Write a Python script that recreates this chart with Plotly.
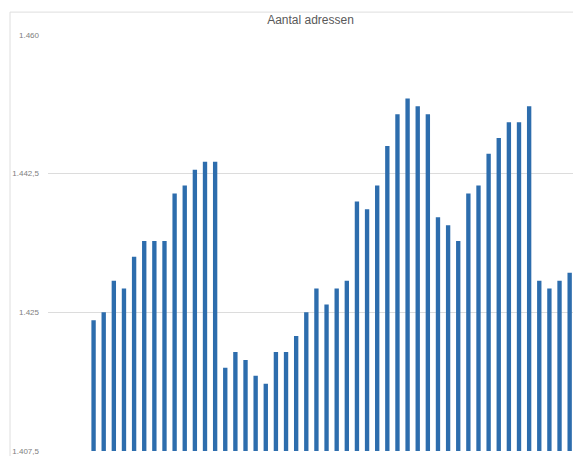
import plotly.graph_objects as go

# Data
periode = list(range(1, 49))
aantal_adressen = [
    1424, 1425, 1429, 1428, 1432, 1434, 1434, 1434, 1440, 1441, 1443, 1444,
    1444, 1418, 1420, 1419, 1417, 1416, 1420, 1420, 1422, 1425, 1428, 1426,
    1428, 1429, 1439, 1438, 1441, 1446, 1450, 1452, 1451, 1450, 1437, 1436,
    1434, 1440, 1441, 1445, 1447, 1449, 1449, 1451, 1429, 1428, 1429, 1430,
]
y_tickvals = [1407.5, 1425, 1442.5, 1460]
y_ticktext = ["1.407,5", "1.425", "1.442,5", "1.460"]
titel = "Aantal adressen"

fig = go.Figure(
    go.Bar(
        x=periode,
        y=aantal_adressen,
        marker=dict(color="#2d6dad", line=dict(width=0)),
        hoverinfo="x+y",
    )
)

fig.update_layout(
    width=573,
    height=456,
    margin=dict(l=48, r=0, t=35, b=3),
    paper_bgcolor="white",
    plot_bgcolor="white",
    bargap=0.57,
    showlegend=False,
    separators=",.",
    title=dict(
        text=titel,
        x=0.5,
        xref="paper",
        xanchor="center",
        y=1 - 20 / 456,
        yanchor="middle",
        font=dict(family="Liberation Sans, Arial, sans-serif", size=12, color="#595959"),
    ),
    xaxis=dict(
        range=[-3.5, 48.33],
        showticklabels=False,
        showgrid=False,
        zeroline=False,
        showline=False,
        ticks="",
    ),
    yaxis=dict(
        range=[1407.5, 1460],
        tickvals=y_tickvals,
        ticktext=y_ticktext,
        showgrid=True,
        gridcolor="#dcdcdc",
        gridwidth=1,
        zeroline=False,
        showline=False,
        ticks="",
        ticklabelstandoff=8,
        ticklabeloverflow="allow",
        tickfont=dict(family="Liberation Sans, Arial, sans-serif", size=8, color="#808080"),
    ),
    shapes=[
        dict(
            type="rect",
            xref="paper",
            yref="paper",
            x0=(10 - 48) / 525,
            x1=1.2,
            y0=-0.2,
            y1=1 + 23 / 418,
            line=dict(color="#dedede", width=1),
            fillcolor="rgba(0,0,0,0)",
            layer="below",
        )
    ],
)

fig.write_html(
    "out.html",
    config={"displayModeBar": False},
    post_script="document.body.style.margin='0';document.body.style.overflow='hidden';",
)
